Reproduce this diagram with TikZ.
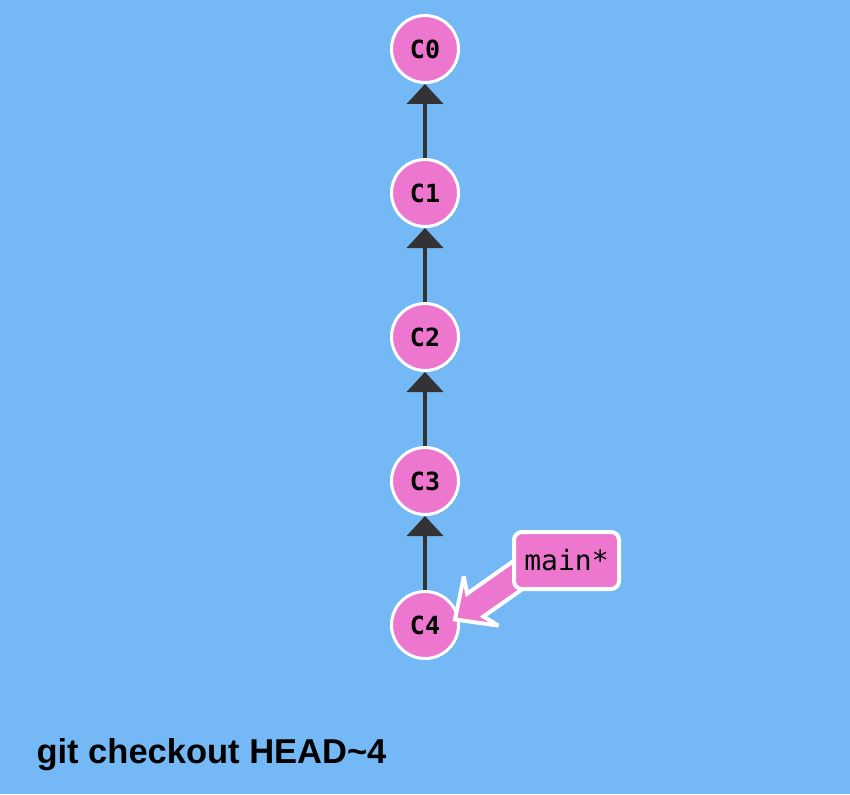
\documentclass[tikz,border=0pt]{standalone}
\usepackage{fontspec}
\setmainfont{Liberation Sans}
\newfontfamily\commitfont{DejaVu Sans Mono}
\usepackage{xcolor}
\usetikzlibrary{arrows.meta}
\definecolor{bgblue}{RGB}{116,185,245}
\definecolor{commitpink}{RGB}{237,119,207}
\definecolor{linkgray}{RGB}{51,51,51}

\begin{document}
\begin{tikzpicture}[x=1pt,y=-1pt,
    commit/.style={circle,fill=commitpink,draw=white,line width=3pt,minimum size=67pt,inner sep=0pt,font=\commitfont\bfseries\fontsize{25}{25}\selectfont},
    branch/.style={rectangle,rounded corners=8pt,fill=commitpink,draw=white,line width=4pt,minimum width=105pt,minimum height=57pt,inner sep=0pt,font=\commitfont\fontsize{28}{28}\selectfont},
    parent/.style={draw=linkgray,line width=4pt,-{Triangle[width=36pt,length=20pt]}}]
                    \fill[bgblue](0,0)rectangle(850,794);
                    \useasboundingbox(0,0)rectangle(850,794);
                    \node[commit] (c0) at (425,49){C0};
                    \node[commit] (c1) at (425,193){C1};
                    \node[commit] (c2) at (425,337){C2};
                    \node[commit] (c3) at (425,481){C3};
                    \node[commit] (c4) at (425,625){C4};
                    \draw[parent](c1)--(c0);
                    \draw[parent](c2)--(c1);
                    \draw[parent](c3)--(c2);
                    \draw[parent](c4)--(c3);
                    % fat arrow from the branch label to C4
                    \filldraw[fill=commitpink,draw=white,line width=4pt,miter limit=4]
                        (455,619.5)--(498.3,625.6)--(483.4,616.5)--(560.3,562.5)
                        --(544.2,539.5)--(467.2,593.6)--(463.8,576.5)--cycle;
                    \node[branch] (main) at (566.5,560.5){main*};
                    \node[anchor=base west,font=\bfseries\fontsize{34.5}{34.5}\selectfont] (cmd) at (33,763){git checkout HEAD\textasciitilde4};
                \end{tikzpicture}
\end{document}
